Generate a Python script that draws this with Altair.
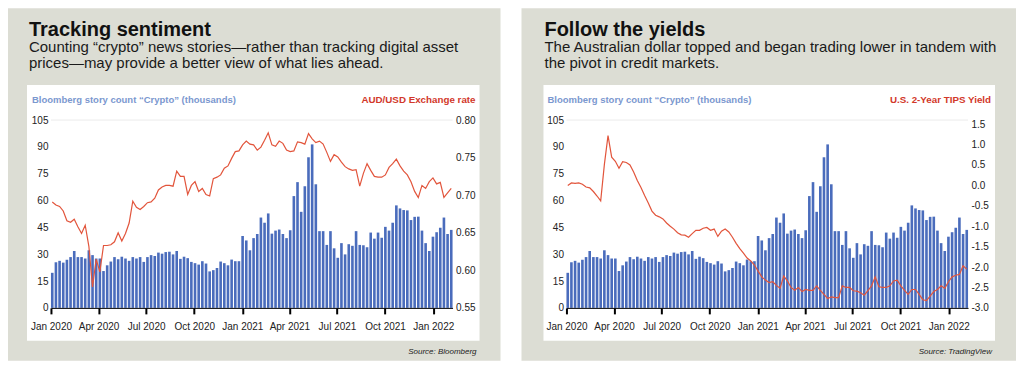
import altair as alt
import pandas as pd

# ---------------- data (weekly, starting first week of Jan 2020) ----------------
start_date = "2020-01-01"

story_count = [19.6, 25.5, 26.3, 25.3, 26.9, 28.4, 31.8, 28.4, 28.4, 27.6,
               32.2, 29.5, 27.6, 27.6, 20.6, 23.8, 25.9, 28.4, 27.2, 28.6,
               27.6, 26.3, 28.4, 27.6, 28.4, 25.7, 28.4, 29.5, 29.0, 30.9,
               30.3, 31.2, 31.4, 29.9, 31.8, 27.4, 28.6, 27.8, 25.7, 25.0,
               24.2, 26.1, 24.8, 20.4, 21.1, 22.3, 25.9, 25.0, 23.8, 27.0,
               26.1, 26.1, 40.2, 37.7, 32.2, 39.0, 41.3, 50.5, 47.6, 52.8,
               41.5, 43.2, 43.8, 41.3, 39.0, 43.4, 62.5, 70.3, 53.7, 68.0,
               84.2, 91.4, 69.1, 42.9, 42.9, 35.2, 42.9, 33.3, 28.0, 36.2,
               29.9, 35.6, 34.7, 42.9, 35.2, 35.0, 33.9, 42.1, 38.7, 42.1,
               39.2, 45.3, 43.2, 47.6, 57.3, 55.6, 54.7, 54.5, 49.1, 50.9,
               51.0, 43.2, 36.2, 31.8, 39.8, 42.3, 44.8, 50.5, 41.3, 43.6]

aud_usd = [0.691, 0.687, 0.685, 0.679, 0.666, 0.664, 0.668, 0.658, 0.649, 0.660,
           0.632, 0.578, 0.615, 0.598, 0.633, 0.633, 0.634, 0.638, 0.650, 0.639,
           0.649, 0.663, 0.692, 0.684, 0.681, 0.685, 0.690, 0.691, 0.696, 0.707,
           0.711, 0.713, 0.713, 0.712, 0.732, 0.725, 0.725, 0.701, 0.713, 0.718,
           0.705, 0.709, 0.701, 0.699, 0.722, 0.724, 0.727, 0.736, 0.739, 0.749,
           0.758, 0.759, 0.767, 0.772, 0.768, 0.767, 0.760, 0.764, 0.773, 0.783,
           0.767, 0.765, 0.772, 0.769, 0.760, 0.758, 0.759, 0.771, 0.770, 0.768,
           0.782, 0.775, 0.770, 0.772, 0.768, 0.757, 0.745, 0.754, 0.751, 0.744,
           0.738, 0.735, 0.733, 0.734, 0.712, 0.729, 0.742, 0.733, 0.725, 0.724,
           0.724, 0.727, 0.737, 0.742, 0.748, 0.739, 0.732, 0.727, 0.718, 0.705,
           0.697, 0.713, 0.709, 0.718, 0.723, 0.715, 0.717, 0.697, 0.703, 0.709]

tips_yield = [0.00, 0.06, 0.05, 0.06, 0.03, -0.04, -0.06, -0.15, -0.26, -0.38,
              0.51, 1.22, 0.69, 0.59, 0.42, 0.58, 0.56, 0.50, 0.33, 0.12,
              -0.05, -0.25, -0.43, -0.63, -0.73, -0.77, -0.82, -0.92, -1.00, -1.07,
              -1.16, -1.21, -1.22, -1.27, -1.18, -1.10, -1.10, -1.05, -1.03, -1.10,
              -1.07, -1.25, -1.12, -1.07, -1.14, -1.27, -1.42, -1.55, -1.66, -1.78,
              -1.85, -1.95, -2.10, -2.24, -2.32, -2.38, -2.36, -2.45, -2.52, -2.22,
              -2.34, -2.50, -2.57, -2.50, -2.60, -2.55, -2.57, -2.57, -2.46, -2.57,
              -2.67, -2.77, -2.73, -2.75, -2.75, -2.46, -2.50, -2.50, -2.58, -2.59,
              -2.63, -2.69, -2.58, -2.46, -2.24, -2.48, -2.50, -2.50, -2.46, -2.34,
              -2.32, -2.46, -2.57, -2.67, -2.55, -2.55, -2.67, -2.80, -2.82, -2.71,
              -2.60, -2.55, -2.46, -2.52, -2.36, -2.24, -2.20, -2.18, -1.97, -2.05]

count_ticks = [0, 15, 30, 45, 60, 75, 90, 105]
aud_ticks = [0.55, 0.60, 0.65, 0.70, 0.75, 0.80]
tips_ticks = [-3.0, -2.5, -2.0, -1.5, -1.0, -0.5, 0.0, 0.5, 1.0, 1.5]

# ---------------- table ----------------
dates = pd.date_range(start_date, periods=len(story_count), freq="7D")
df = pd.DataFrame({
    "date": dates,
    "date_end": dates + pd.Timedelta(days=5),
    "date_mid": dates + pd.Timedelta(hours=60),
    "count": story_count,
    "base": [0] * len(story_count),
    "aud": aud_usd,
    "tips": tips_yield,
})

# ---------------- styling ----------------
GRAY = "#dcddd4"
BLUE = "#4a6cbc"
BLUE_LABEL = "#7b98cf"
RED_LINE = "#e2553c"
RED_LABEL = "#d2382a"
FONT = "Liberation Sans"
W, H = 402, 188

x_domain = [alt.DateTime(year=2020, month=1, date=1), alt.DateTime(year=2022, month=2, date=7)]
x_ticks = [alt.DateTime(year=y, month=m, date=1)
           for y in (2020, 2021) for m in (1, 4, 7, 10)] + [alt.DateTime(year=2022, month=1, date=1)]

x_axis = alt.Axis(values=x_ticks, format="%b %Y", title=None, grid=False,
                  domainColor="#000", domainWidth=1, tickColor="#000", tickWidth=2,
                  tickSize=6, labelPadding=8, labelFontSize=10, labelFont=FONT,
                  labelColor="#222", labelFlush=False, zindex=2)

one = pd.DataFrame({"k": [0]})


def txt(s, x, y, **kw):
    return alt.Chart(pd.DataFrame({"t": [s]})).mark_text(
        baseline="alphabetic", font=FONT, **kw
    ).encode(text="t:N", x=alt.value(x), y=alt.value(y))


def panel(title, sub1, sub2, right_label, field, domain, ticks, label_expr, source, gray_left, white_left):
    bg = alt.Chart(one).mark_rect(color=GRAY).encode(
        x=alt.value(gray_left), x2=alt.value(450), y=alt.value(-112), y2=alt.value(241))
    white = alt.Chart(one).mark_rect(color="white").encode(
        x=alt.value(white_left), x2=alt.value(429), y=alt.value(-35), y2=alt.value(221))
    grid = alt.Chart(one).mark_rule(color="#ebebeb", strokeWidth=1).encode(
        x=alt.value(0), x2=alt.value(W), y=alt.value(0))

    bars = alt.Chart(df).mark_bar(color=BLUE).encode(
        x=alt.X("date:T", scale=alt.Scale(domain=x_domain), axis=x_axis),
        x2="date_end:T",
        y=alt.Y("count:Q", scale=alt.Scale(domain=[0, 105], nice=False),
                axis=alt.Axis(orient="left", values=count_ticks, title=None, grid=False,
                              domain=False, ticks=False, labelPadding=3, labelFontSize=10,
                              labelFont=FONT, labelColor="#222", zindex=2)),
        y2="base:Q",
    )
    line = alt.Chart(df).mark_line(color=RED_LINE, strokeWidth=1.2).encode(
        x=alt.X("date_mid:T", scale=alt.Scale(domain=x_domain), axis=x_axis),
        y=alt.Y(f"{field}:Q", scale=alt.Scale(domain=domain, nice=False, zero=False),
                axis=alt.Axis(orient="right", values=ticks, title=None, grid=False,
                              domain=False, ticks=False, labelPadding=3, labelFontSize=10,
                              labelFont=FONT, labelColor="#222", labelExpr=label_expr,
                              zindex=2)),
    )

    texts = [
        txt(title, -22, -84, align="left", fontSize=20, fontWeight="bold", color="#111"),
        txt(sub1, -22, -68, align="left", fontSize=15, color="#1a1a1a"),
        txt(sub2, -22, -52, align="left", fontSize=15, color="#1a1a1a"),
        txt("Bloomberg story count \u201cCrypto\u201d (thousands)", -19, -17, align="left",
            fontSize=9.5, fontWeight="bold", color=BLUE_LABEL),
        txt(right_label, 425, -17, align="right", fontSize=9.8, fontWeight="bold", color=RED_LABEL),
        txt(source, 426, 234, align="right", fontSize=8, fontStyle="italic", color="#222"),
    ]
    return alt.layer(bg, white, grid, bars, line, *texts).resolve_scale(y="independent").properties(
        width=W, height=H)


left = panel("Tracking sentiment",
             "Counting \u201ccrypto\u201d news stories\u2014rather than tracking digital asset",
             "prices\u2014may provide a better view of what lies ahead.",
             "AUD/USD Exchange rate", "aud", [0.55, 0.80], aud_ticks,
             "format(datum.value, '.2f')", "Source: Bloomberg", -43, -24)

right = panel("Follow the yields",
              "The Australian dollar topped and began trading lower in tandem with",
              "the pivot in credit markets.",
              "U.S. 2-Year TIPS Yield", "tips", [-3.0, 1.6], tips_ticks,
              "replace(format(datum.value, '.1f'), '\u2212', '-')", "Source: TradingView", -45, -23)

chart = alt.hconcat(left, right, spacing=21).properties(
    padding={"left": 0, "top": 0, "right": 0, "bottom": 0}
).configure_view(stroke=None)

chart.save("out.html", embed_options={"renderer": "svg", "actions": False})
